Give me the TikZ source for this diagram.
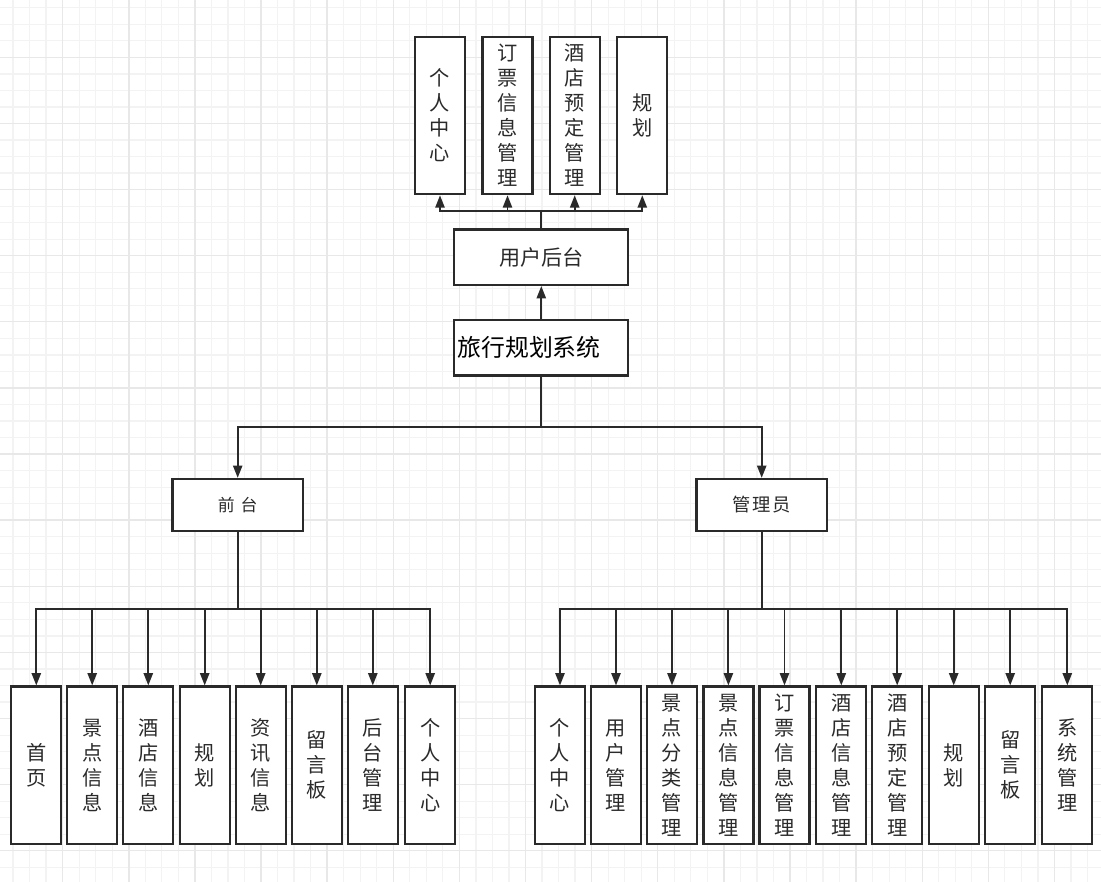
\documentclass[tikz,border=0pt]{standalone}
\usepackage{fontspec}
\usetikzlibrary{arrows.meta}
\newfontfamily\cjk{Noto Sans CJK SC}
\definecolor{linegray}{HTML}{2A2A2A}
\definecolor{minorgrid}{HTML}{F3F3F3}
\definecolor{majorgrid}{HTML}{E8E8E8}

\begin{document}
\begin{tikzpicture}[x=0.2mm, y=-0.2mm,
    vbox/.style={draw=linegray, line width=1.25pt, fill=white, minimum width=10mm, minimum height=31.5mm, inner sep=0pt, align=center, text=linegray, font=\cjk\fontsize{11.5}{14.2}\selectfont},
    hbox/.style={draw=linegray, line width=1.25pt, fill=white, inner sep=0pt, text=linegray},
    arr/.style={draw=linegray, line width=1.1pt, -{Triangle[length=7pt, width=5.2pt]}},
    minor/.style={draw=minorgrid, line width=0.7pt},
    major/.style={draw=majorgrid, line width=0.8pt}]
    \useasboundingbox (0,0) rectangle (1101,882);
    \fill[white] (0,0) rectangle (1101,882);

    % Grid
    \foreach \k in {0,...,65} \draw[minor] ({13.05+16.53*\k},0) -- ++(0,882);
    \foreach \k in {0,...,52} \draw[minor] (0,{7.8+16.53*\k}) -- ++(1101,0);
    \foreach \k in {0,...,15} \draw[major] ({62.7+66.12*\k},0) -- ++(0,882);
    \foreach \k in {0,...,12} \draw[major] (0,{57.3+66.12*\k}) -- ++(1101,0);

    % Draw nodes
    \node[hbox, minimum height=11.1mm, text width=33.6mm, inner xsep=0.6mm, align=left, text=black, font=\cjk\fontsize{13.6}{16}\selectfont] (root) at (541.3,347.7) {旅行规划系统};
    \node[hbox, minimum width=34.8mm, minimum height=11.1mm, font=\cjk\fontsize{12}{14}\selectfont] (user) at (541.3,257.2) {用户后台};
    \node[hbox, minimum width=26.1mm, minimum height=10.4mm, font=\cjk\fontsize{9.6}{12}\selectfont] (fore) at (237.7,505) {前\hspace{1.2mm}台};
    \node[hbox, minimum width=26.1mm, minimum height=10.4mm, font=\cjk\fontsize{10.4}{12}\selectfont] (admin) at (761.7,505) {管\hspace{0.4mm}理\hspace{0.4mm}员};

    \node[vbox] (t1) at (440,115.4) {个\\人\\中\\心};
    \node[vbox] (t2) at (507.5,115.4) {订\\票\\信\\息\\管\\理};
    \node[vbox] (t3) at (574.7,115.4) {酒\\店\\预\\定\\管\\理};
    \node[vbox] (t4) at (642.3,115.4) {规\\划};

    \node[vbox] (f1) at (36.3,765.3) {首\\页};
    \node[vbox] (f2) at (92.2,765.3) {景\\点\\信\\息};
    \node[vbox] (f3) at (148.3,765.3) {酒\\店\\信\\息};
    \node[vbox] (f4) at (204.7,765.3) {规\\划};
    \node[vbox] (f5) at (260.7,765.3) {资\\讯\\信\\息};
    \node[vbox] (f6) at (316.8,765.3) {留\\言\\板};
    \node[vbox] (f7) at (372.8,765.3) {后\\台\\管\\理};
    \node[vbox] (f8) at (430.2,765.3) {个\\人\\中\\心};

    \node[vbox] (a1) at (560,765.3) {个\\人\\中\\心};
    \node[vbox] (a2) at (616,765.3) {用\\户\\管\\理};
    \node[vbox] (a3) at (672,765.3) {景\\点\\分\\类\\管\\理};
    \node[vbox] (a4) at (728.4,765.3) {景\\点\\信\\息\\管\\理};
    \node[vbox] (a5) at (784.5,765.3) {订\\票\\信\\息\\管\\理};
    \node[vbox] (a6) at (841.3,765.3) {酒\\店\\信\\息\\管\\理};
    \node[vbox] (a7) at (897.2,765.3) {酒\\店\\预\\定\\管\\理};
    \node[vbox] (a8) at (953.7,765.3) {规\\划};
    \node[vbox] (a9) at (1010.2,765.3) {留\\言\\板};
    \node[vbox] (a10) at (1067.3,765.3) {系\\统\\管\\理};

    % Draw connections
    \coordinate (ubus) at (541.3,211);
    \coordinate (rbus) at (541.3,427.3);
    \coordinate (fbus) at (237.7,609.3);
    \coordinate (abus) at (761.7,609.3);
    \draw[arr] (root.north) -- (user.south);
    \foreach \i in {1,...,4} \draw[arr] (user.north) -- (ubus) -| (t\i.south);
    \draw[arr] (root.south) -- (rbus) -| (fore.north);
    \draw[arr] (root.south) -- (rbus) -| (admin.north);
    \foreach \i in {1,...,8} \draw[arr] (fore.south) -- (fbus) -| (f\i.north);
    \foreach \i in {1,...,10} \draw[arr] (admin.south) -- (abus) -| (a\i.north);
\end{tikzpicture}
\end{document}
